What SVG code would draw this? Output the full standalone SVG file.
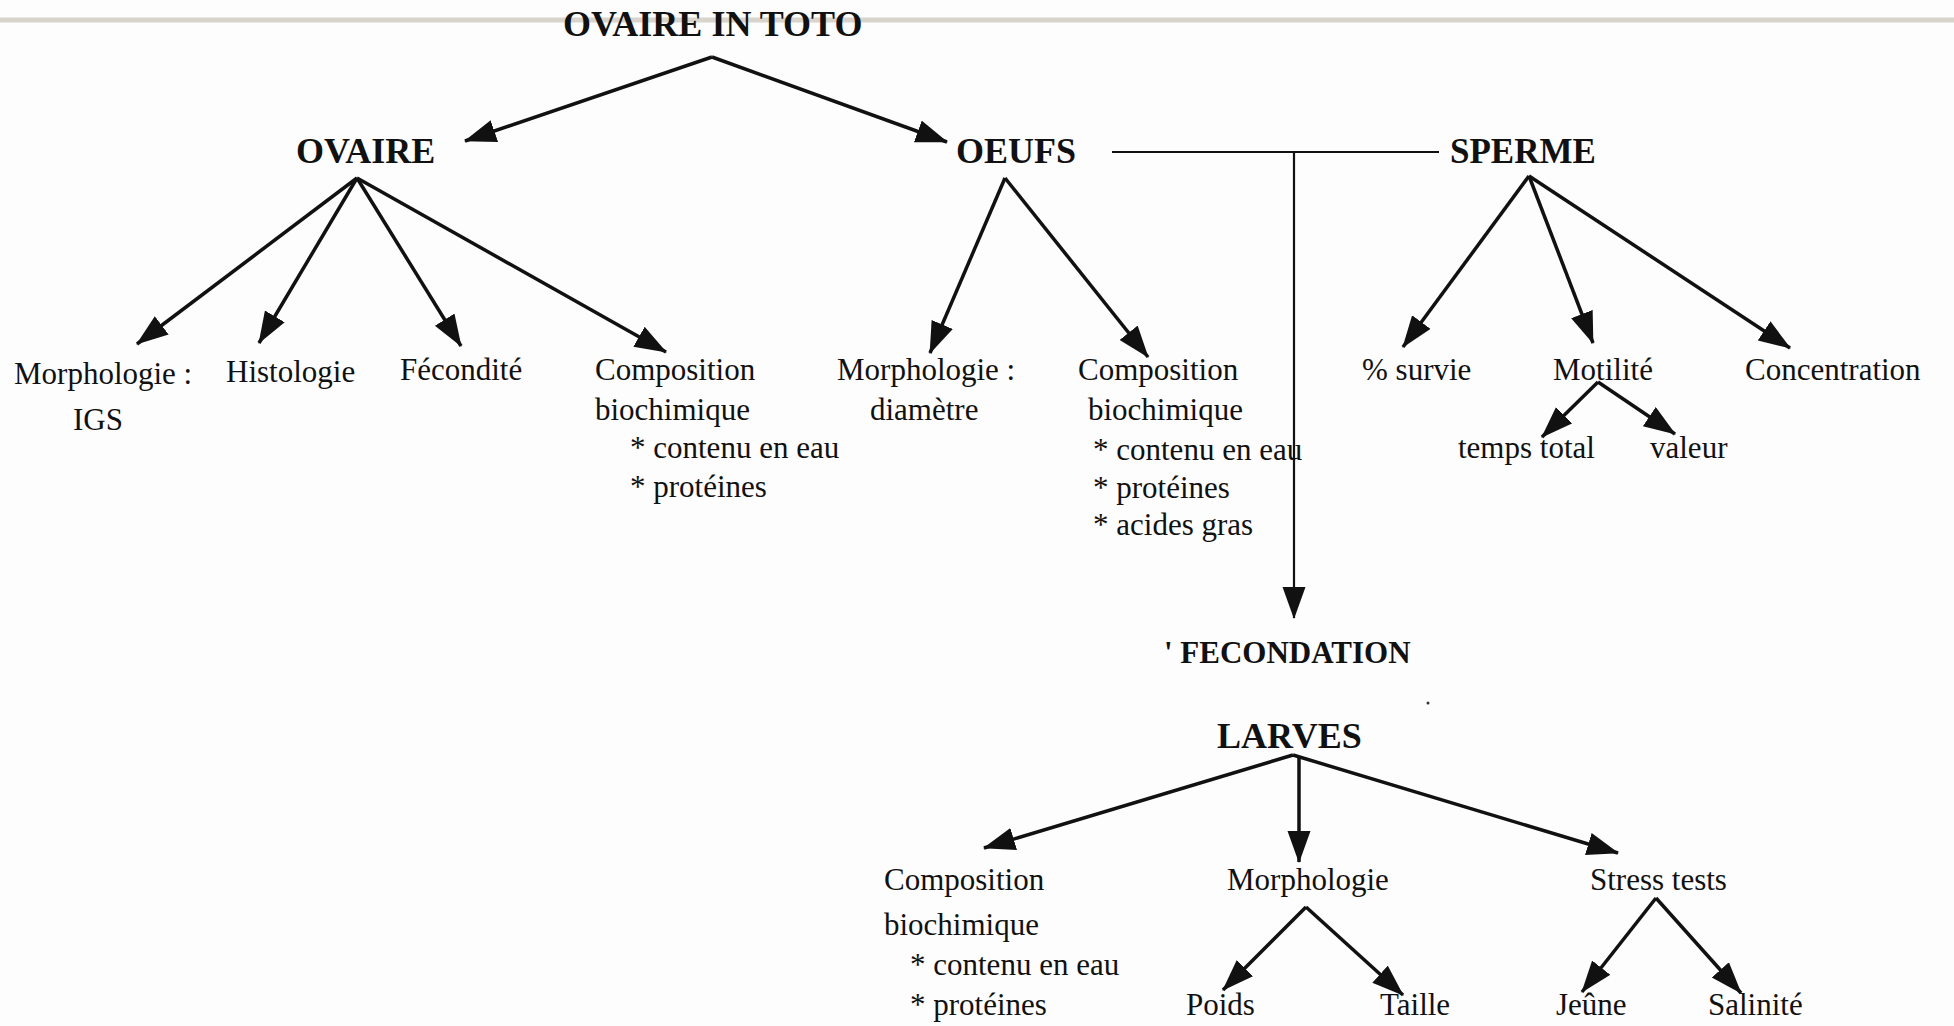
<svg xmlns="http://www.w3.org/2000/svg" width="1954" height="1026" viewBox="0 0 1954 1026">
<defs>
<marker id="ah" markerUnits="userSpaceOnUse" markerWidth="34" markerHeight="26" refX="31" refY="11.5" orient="auto">
<path d="M0,0 L32,11.5 L0,23 z" fill="#111"/>
</marker>
<style>
.h{font-family:"Liberation Serif","Times New Roman",serif;font-weight:bold;font-size:36px;fill:#111}
.t{font-family:"Liberation Serif","Times New Roman",serif;font-size:31px;fill:#111}
.e{stroke:#111;stroke-width:3.5;fill:none;marker-end:url(#ah)}
.thin{stroke:#111;stroke-width:2.2;fill:none}
</style>
</defs>
<rect width="1954" height="1026" fill="#fdfdfd"/>
<line x1="0" y1="20" x2="1954" y2="20" stroke="#d8d4cc" stroke-width="5"/>

<g id="connectors">
<line class="e" x1="712" y1="57" x2="465" y2="141"/>
<line class="e" x1="712" y1="57" x2="947" y2="142"/>
<line class="e" x1="357" y1="178" x2="137" y2="344"/>
<line class="e" x1="357" y1="178" x2="259" y2="343"/>
<line class="e" x1="357" y1="178" x2="461" y2="346"/>
<line class="e" x1="357" y1="178" x2="666" y2="352"/>
<line class="e" x1="1005" y1="178" x2="930" y2="353"/>
<line class="e" x1="1005" y1="178" x2="1148" y2="357"/>
<line class="e" x1="1529" y1="176" x2="1403" y2="347"/>
<line class="e" x1="1529" y1="176" x2="1593" y2="343"/>
<line class="e" x1="1529" y1="176" x2="1790" y2="348"/>
<line class="e" x1="1598" y1="382" x2="1542" y2="437"/>
<line class="e" x1="1598" y1="382" x2="1675" y2="434"/>
<line class="thin" x1="1112" y1="152" x2="1439" y2="152"/>
<line class="thin" x1="1294" y1="152" x2="1294" y2="618" style="marker-end:url(#ah)"/>
<line class="e" x1="1293" y1="755" x2="984" y2="848"/>
<line class="e" x1="1299" y1="757" x2="1299" y2="862"/>
<line class="e" x1="1293" y1="755" x2="1618" y2="853"/>
<line class="e" x1="1306" y1="907" x2="1223" y2="990"/>
<line class="e" x1="1306" y1="907" x2="1403" y2="995"/>
<line class="e" x1="1656" y1="898" x2="1582" y2="992"/>
<line class="e" x1="1656" y1="898" x2="1741" y2="993"/>
</g>

<g id="ovaire-in-toto"><text class="h" x="563" y="36">OVAIRE IN TOTO</text></g>
<g id="ovaire"><text class="h" x="296" y="163">OVAIRE</text></g>
<g id="oeufs"><text class="h" x="956" y="163">OEUFS</text></g>
<g id="sperme"><text class="h" x="1450" y="163" style="font-size:35px">SPERME</text></g>
<g id="fecondation"><text class="h" x="1164" y="663" style="font-size:31px">' FECONDATION</text></g>
<g id="larves"><text class="h" x="1217" y="748">LARVES</text></g>

<g id="ov-morphologie"><text class="t" x="14" y="384">Morphologie :</text><text class="t" x="73" y="430">IGS</text></g>
<g id="ov-histologie"><text class="t" x="226" y="382">Histologie</text></g>
<g id="ov-fecondite"><text class="t" x="400" y="380">Fécondité</text></g>
<g id="ov-composition">
<text class="t" x="595" y="380">Composition</text>
<text class="t" x="595" y="420">biochimique</text>
<text class="t" x="630" y="458">* contenu en eau</text>
<text class="t" x="630" y="497">* protéines</text>
</g>

<g id="oe-morphologie"><text class="t" x="837" y="380">Morphologie :</text><text class="t" x="870" y="420">diamètre</text></g>
<g id="oe-composition">
<text class="t" x="1078" y="380">Composition</text>
<text class="t" x="1088" y="420">biochimique</text>
<text class="t" x="1093" y="460">* contenu en eau</text>
<text class="t" x="1093" y="498">* protéines</text>
<text class="t" x="1093" y="535">* acides gras</text>
</g>

<g id="sp-survie"><text class="t" x="1362" y="380">% survie</text></g>
<g id="sp-motilite"><text class="t" x="1553" y="380">Motilité</text></g>
<g id="sp-concentration"><text class="t" x="1745" y="380">Concentration</text></g>
<g id="mo-temps"><text class="t" x="1458" y="458">temps total</text></g>
<g id="mo-valeur"><text class="t" x="1650" y="458">valeur</text></g>

<g id="la-composition">
<text class="t" x="884" y="890">Composition</text>
<text class="t" x="884" y="935">biochimique</text>
<text class="t" x="910" y="975">* contenu en eau</text>
<text class="t" x="910" y="1015">* protéines</text>
</g>
<g id="la-morphologie"><text class="t" x="1227" y="890">Morphologie</text></g>
<g id="la-stress"><text class="t" x="1590" y="890">Stress tests</text></g>
<g id="la-poids"><text class="t" x="1186" y="1015">Poids</text></g>
<g id="la-taille"><text class="t" x="1380" y="1015">Taille</text></g>
<g id="la-jeune"><text class="t" x="1556" y="1015">Jeûne</text></g>
<g id="la-salinite"><text class="t" x="1708" y="1015">Salinité</text></g>
<circle cx="1428" cy="703" r="1.5" fill="#333"/>
</svg>
